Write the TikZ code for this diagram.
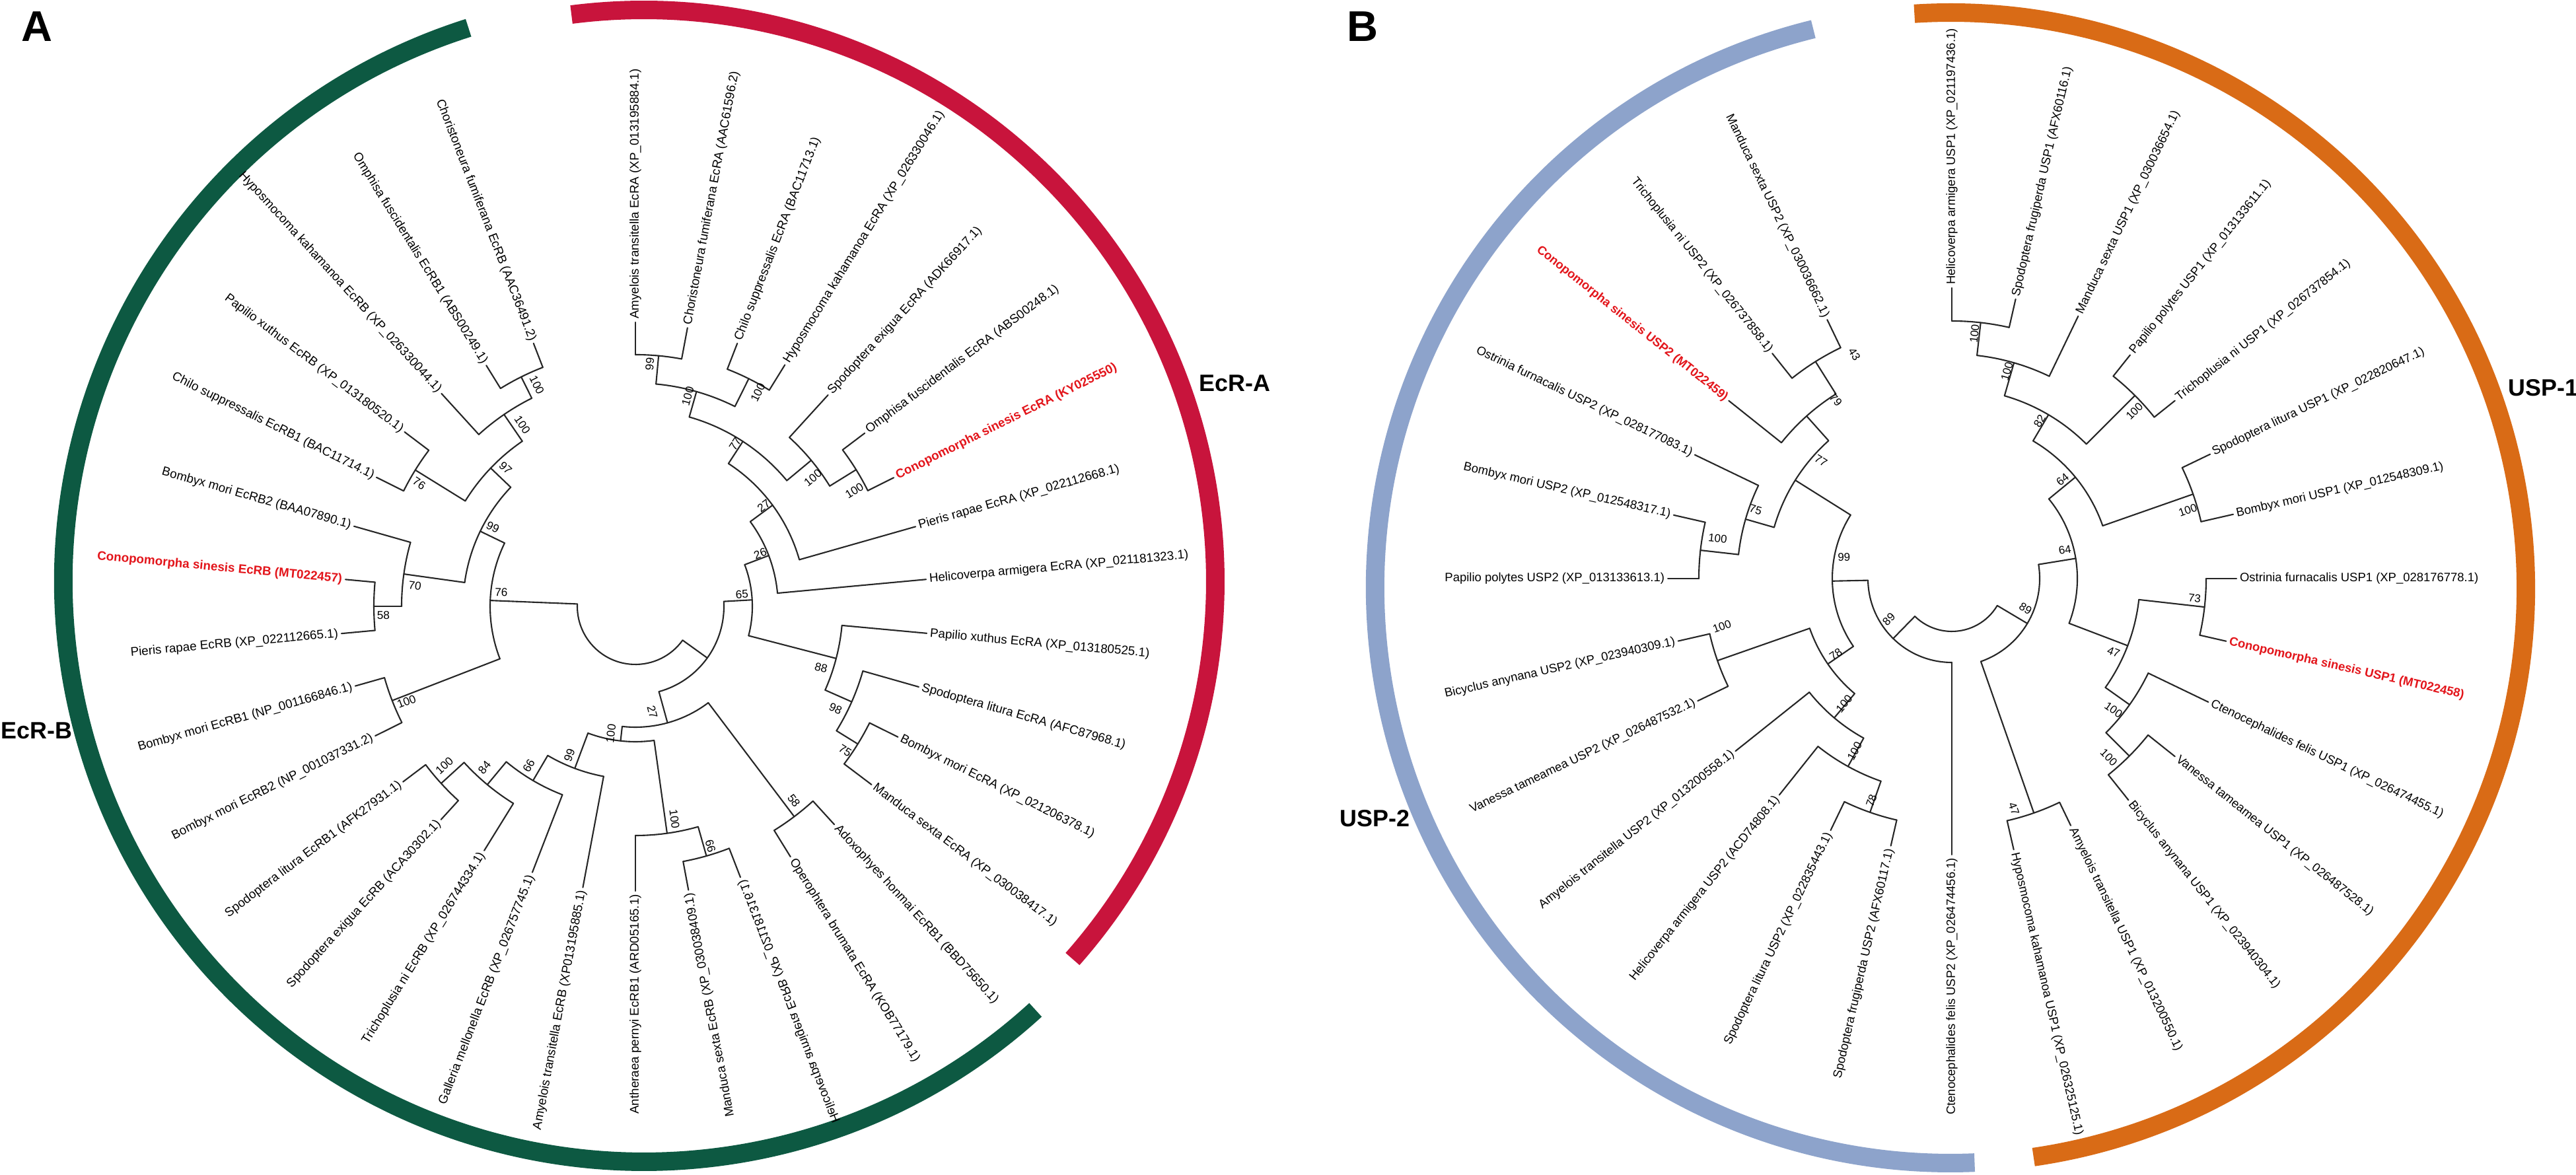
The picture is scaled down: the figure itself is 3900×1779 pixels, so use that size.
\documentclass[tikz,border=0pt]{standalone}
\usepackage{fontspec}
\setmainfont{Liberation Sans}
\definecolor{cgreen}{HTML}{0D5942}
\definecolor{cred}{HTML}{C8143C}
\definecolor{cblue}{HTML}{8DA3CB}
\definecolor{corange}{HTML}{D96B16}
\definecolor{ctext}{HTML}{E3151B}
\def\lffont{\fontsize{5.35}{6.3}\selectfont}
\def\bsfont{\fontsize{4.9}{5.8}\selectfont}
\tikzset{
  tree/.style={line width=0.6pt, line cap=round, line join=round, black!85},
  ring/.style={line width=0.28cm},
  lfR/.style={anchor=west, inner xsep=0.05cm, inner ysep=0pt, outer sep=0pt, font=\lffont},
  lfL/.style={anchor=east, inner xsep=0.05cm, inner ysep=0pt, outer sep=0pt, font=\lffont},
  bs/.style={inner sep=0pt, font=\bsfont},
  clade/.style={font=\fontsize{10.2}{12}\selectfont\bfseries, inner sep=0pt},
  panel/.style={font=\fontsize{18.5}{20}\selectfont\bfseries, inner sep=0pt},
}
% internal node: name, angle, radius, parent radius, arc from, arc to
\newcommand\Nd[6]{\coordinate (#1) at (#2:#3);
  \draw[tree] (#2:#4) -- (#1);
  \draw[tree] (#5:#3) arc[start angle=#5, end angle=#6, radius=#3];}
% leaf: name, angle, parent radius, tip radius
\newcommand\Lf[4]{\coordinate (#1) at (#2:#4); \draw[tree] (#2:#3) -- (#1);}
\newcommand\LR[3]{\node[lfR, rotate=#2] (t#1) at (#1) {#3};}
\newcommand\LL[3]{\node[lfL, rotate=#2] (t#1) at (#1) {#3};}
\newcommand\BS[5]{\node[bs, rotate=#4] (#1) at (#2:#3) {#5};}
\newcommand\Red[1]{\textcolor{ctext}{\bfseries #1}}
\begin{document}
\begin{tikzpicture}[x=0.01cm, y=0.01cm]
\fill[white] (0,0) rectangle (3900,1779);
\useasboundingbox (0,0) rectangle (3900,1779);

% ================= PANEL A =================
\node[panel] (labA) at (56,1739) {A};
\begin{scope}[shift={(975,899)}]
  \draw[ring, cgreen] (107.6:879) arc[start angle=107.6, end angle=312.4, radius=879];
  \draw[ring, cred] (-41.4:865) arc[start angle=-41.4, end angle=97.3, radius=865];
\end{scope}
\node[clade, anchor=west] (cEcRA) at (1815,1199) {EcR-A};
\node[clade, anchor=west] (cEcRB) at (1,673) {EcR-B};

\begin{scope}[shift={(962,861)}]
  \coordinate (Aroot) at (0,0);
  \draw[tree] (177.69:88) arc[start angle=177.69, end angle=324.3, radius=88];
  \Nd{AX}{177.69}{220}{88}{154.19}{201.18}
  \Nd{AY}{-35.7}{134}{88}{3.15}{-74.6}
  \Nd{A65}{3.15}{177}{134}{20.85}{-14.56}
  \Nd{A26}{20.85}{216}{177}{36.4}{5.29}
  \Nd{A27a}{36.4}{258}{216}{56.91}{15.88}
  \Nd{A77}{56.91}{298}{258}{74.12}{39.71}
  \Nd{A100c}{74.12}{338}{298}{84.71}{63.53}
  \Nd{A99a}{84.71}{381}{338}{90}{79.41}
  \Nd{A100b}{63.53}{385}{338}{68.82}{58.24}
  \Nd{A100e}{39.71}{346}{298}{47.65}{31.76}
  \Nd{A100d}{31.76}{393}{346}{37.06}{26.47}
  \Nd{A88}{-14.56}{314}{177}{-5.29}{-23.82}
  \Nd{A98}{-23.82}{358}{314}{-15.88}{-31.76}
  \Nd{A75}{-31.76}{396}{358}{-26.47}{-37.06}
  \Nd{A27b}{-74.6}{183}{134}{-52.94}{-96.29}
  \Nd{A58}{-52.94}{399}{183}{-47.65}{-58.24}
  \Nd{A100h}{-96.29}{205}{183}{-82.06}{-110.51}
  \Nd{A100f}{-82.06}{347}{205}{-74.12}{-90}
  \Nd{A66}{-74.12}{393}{347}{-68.82}{-79.41}
  \Nd{A99b}{-110.51}{262}{205}{-100.59}{-120.44}
  \Nd{A66b}{-120.44}{306}{262}{-111.18}{-129.71}
  \Nd{A84}{-129.71}{351}{306}{-121.76}{-137.65}
  \Nd{A100g}{-137.65}{398}{351}{-132.35}{-142.94}
  \Nd{A100i}{201.18}{395}{220}{206.47}{195.88}
  \Nd{A99c}{154.19}{261}{220}{172.06}{136.32}
  \Nd{A70}{172.06}{354}{261}{180}{164.12}
  \Nd{A58b}{180}{396}{354}{185.29}{174.71}
  \Nd{A97}{136.32}{303}{261}{148.24}{124.41}
  \Nd{A76b}{148.24}{392}{303}{153.53}{142.94}
  \Nd{A100k}{124.41}{352}{303}{132.35}{116.47}
  \Nd{A100j}{116.47}{388}{352}{121.76}{111.18}
  % leaves
  \Lf{Al1}{90}{381}{430}
  \Lf{Al2}{79.41}{381}{429}
  \Lf{Al3}{68.82}{385}{427}
  \Lf{Al4}{58.24}{385}{430}
  \Lf{Al5}{47.65}{346}{433}
  \Lf{Al6}{37.06}{393}{435}
  \Lf{Al7}{26.47}{393}{437}
  \Lf{Al8}{15.88}{258}{441}
  \Lf{Al9}{5.29}{216}{442}
  \Lf{Al10}{-5.29}{314}{443}
  \Lf{Al11}{-15.88}{358}{446}
  \Lf{Al12}{-26.47}{396}{444}
  \Lf{Al13}{-37.06}{396}{448}
  \Lf{Al14}{-47.65}{399}{447}
  \Lf{Al15}{-58.24}{399}{446}
  \Lf{Al16}{-68.82}{393}{440}
  \Lf{Al17}{-79.41}{393}{437}
  \Lf{Al18}{-90}{347}{431}
  \Lf{Al19}{-100.59}{262}{433}
  \Lf{Al20}{-111.18}{306}{432}
  \Lf{Al21}{-121.76}{351}{435}
  \Lf{Al22}{-132.35}{398}{437}
  \Lf{Al23}{-142.94}{398}{441}
  \Lf{Al24}{206.47}{395}{440}
  \Lf{Al25}{195.88}{395}{441}
  \Lf{Al26}{185.29}{396}{447}
  \Lf{Al27}{174.71}{396}{441}
  \Lf{Al28}{164.12}{354}{443}
  \Lf{Al29}{153.53}{392}{438}
  \Lf{Al30}{142.94}{392}{438}
  \Lf{Al31}{132.35}{352}{436}
  \Lf{Al32}{121.76}{388}{429}
  \Lf{Al33}{111.18}{388}{427}
  % leaf labels
  \LR{Al1}{90}{Amyelois transitella EcRA (XP\_013195884.1)}
  \LR{Al2}{79.41}{Choristoneura fumiferana EcRA (AAC61596.2)}
  \LR{Al3}{68.82}{Chilo suppressalis EcRA (BAC11713.1)}
  \LR{Al4}{58.24}{Hyposmocoma kahamanoa EcRA (XP\_026330046.1)}
  \LR{Al5}{47.65}{Spodoptera exigua EcRA (ADK66917.1)}
  \LR{Al6}{37.06}{Omphisa fuscidentalis EcRA (ABS00248.1)}
  \LR{Al7}{26.47}{\Red{Conopomorpha sinesis EcRA (KY025550)}}
  \LR{Al8}{15.88}{Pieris rapae EcRA (XP\_022112668.1)}
  \LR{Al9}{5.29}{Helicoverpa armigera EcRA (XP\_021181323.1)}
  \LR{Al10}{-5.29}{Papilio xuthus EcRA (XP\_013180525.1)}
  \LR{Al11}{-15.88}{Spodoptera litura EcRA (AFC87968.1)}
  \LR{Al12}{-26.47}{Bombyx mori EcRA (XP\_021206378.1)}
  \LR{Al13}{-37.06}{Manduca sexta EcRA (XP\_030038417.1)}
  \LR{Al14}{-47.65}{Adoxophyes honmai EcRB1 (BBD75650.1)}
  \LR{Al15}{-58.24}{Operophtera brumata EcRA (KOB77179.1)}
  \node[lfL, rotate=111.18, yscale=-1] (tAl16) at (Al16) {Helicoverpa armigera EcRB (XP\_021181316.1)};
  \LL{Al17}{100.59}{Manduca sexta EcRB (XP\_030038409.1)}
  \LL{Al18}{90}{Antheraea pernyi EcRB1 (ARD05165.1)}
  \LL{Al19}{79.41}{Amyelois transitella EcRB (XP013195885.1)}
  \LL{Al20}{68.82}{Galleria mellonella EcRB (XP\_026757745.1)}
  \LL{Al21}{58.24}{Trichoplusia ni EcRB (XP\_026744334.1)}
  \LL{Al22}{47.65}{Spodoptera exigua EcRB (ACA30302.1)}
  \LL{Al23}{37.06}{Spodoptera litura EcRB1 (AFK27931.1)}
  \LL{Al24}{26.47}{Bombyx mori EcRB2 (NP\_001037331.2)}
  \LL{Al25}{15.88}{Bombyx mori EcRB1 (NP\_001166846.1)}
  \LL{Al26}{5.29}{Pieris rapae EcRB (XP\_022112665.1)}
  \LL{Al27}{-5.29}{\Red{Conopomorpha sinesis EcRB (MT022457)}}
  \LL{Al28}{-15.88}{Bombyx mori EcRB2 (BAA07890.1)}
  \LL{Al29}{-26.47}{Chilo suppressalis EcRB1 (BAC11714.1)}
  \LL{Al30}{-37.06}{Papilio xuthus EcRB (XP\_013180520.1)}
  \LL{Al31}{-47.65}{Hyposmocoma kahamanoa EcRB (XP\_026330044.1)}
  \LL{Al32}{-58.24}{Omphisa fuscidentalis EcRB1 (ABS00249.1)}
  \LL{Al33}{-68.82}{Choristoneura fumiferana EcRB (AAC36491.2)}
  % bootstrap values
  \BS{bA1}{86.6}{367.5}{84.7}{99}
  \BS{bA2}{76.0}{327.8}{74.1}{100}
  \BS{bA3}{60.2}{373.2}{63.5}{100}
  \BS{bA4}{58.4}{288.2}{56.9}{77}
  \BS{bA5}{35.9}{331.7}{39.7}{100}
  \BS{bA6}{27.8}{374.8}{31.8}{100}
  \BS{bA7}{38.1}{246.9}{36.4}{27}
  \BS{bA8}{22.9}{205.2}{20.9}{26}
  \BS{bA9}{6.4}{162.3}{3.2}{65}
  \BS{bA10}{-18.3}{296}{-14.6}{88}
  \BS{bA11}{-27.1}{340.5}{-23.8}{98}
  \BS{bA12}{-34.6}{385.7}{-31.8}{75}
  \BS{bA13}{-50.8}{379.5}{-52.9}{58}
  \BS{bA14}{-72.6}{380.1}{-74.1}{66}
  \BS{bA15}{-79.6}{327.6}{-82.1}{100}
  \BS{bA16}{-80.9}{162}{-74.6}{27}
  \BS{bA17}{-100.9}{196.5}{83.7}{100}
  \BS{bA18}{-113.9}{246.6}{69.5}{99}
  \BS{bA19}{-123.8}{290.2}{59.6}{66}
  \BS{bA20}{-133.1}{334.4}{50.3}{84}
  \BS{bA21}{-140.2}{376.5}{42.35}{100}
  \BS{bA22}{-157.4}{375.4}{21.2}{100}
  \BS{bA23}{174.0}{204.2}{-2.3}{76}
  \BS{bA24}{174.7}{335.2}{-7.9}{70}
  \BS{bA25}{182.0}{381.8}{0}{58}
  \BS{bA26}{150.9}{247}{-25.8}{99}
  \BS{bA27}{133.2}{287.1}{-43.7}{97}
  \BS{bA28}{150.4}{376.6}{-31.8}{76}
  \BS{bA29}{121.9}{324}{-55.6}{100}
  \BS{bA30}{114}{366.9}{-63.5}{100}
\end{scope}

% ================= PANEL B =================
\node[panel] (labB) at (2063,1739) {B};
\begin{scope}[shift={(2953,889)}]
  \draw[ring, cblue] (103.8:871) arc[start angle=103.8, end angle=272.4, radius=871];
  \draw[ring, corange] (-81.7:871) arc[start angle=-81.7, end angle=93.6, radius=871];
\end{scope}
\node[clade, anchor=west] (cUSP1) at (3797,1192) {USP-1};
\node[clade, anchor=east] (cUSP2) at (2135,540) {USP-2};

\def\lffont{\fontsize{5.25}{6.2}\selectfont}
\def\bsfont{\fontsize{4.8}{5.7}\selectfont}
\begin{scope}[shift={(2955,903)}]
  \coordinate (Broot) at (0,0);
  \draw[tree] (-30.74:80) arc[start angle=-30.74, end angle=-134.4, radius=80];
  \Nd{BR89}{-30.74}{133}{80}{9.24}{-70.71}
  \Nd{B64b}{9.24}{190}{133}{39.38}{-20.89}
  \Nd{B64a}{39.38}{242}{190}{59.46}{19.29}
  \Nd{B82}{59.46}{288}{242}{73.93}{45}
  \Nd{B100b}{73.93}{340}{288}{83.57}{64.29}
  \Nd{B100a}{83.57}{390}{340}{90}{77.14}
  \Nd{B100c}{45}{392}{288}{51.43}{38.57}
  \Nd{B100d}{19.29}{387}{242}{25.71}{12.86}
  \Nd{B47a}{-20.89}{285}{190}{-6.43}{-35.36}
  \Nd{B73}{-6.43}{385}{285}{0}{-12.86}
  \Nd{B100f}{-35.36}{330}{285}{-25.71}{-45}
  \Nd{B100e}{-45}{380}{330}{-38.57}{-51.43}
  \Nd{B47b}{-70.71}{376}{133}{-64.29}{-77.14}
  \Nd{BL89}{-134.4}{127}{80}{-90}{-178.8}
  \Nd{B99}{-178.8}{181}{127}{-145.45}{-212.14}
  \Nd{B78a}{-145.45}{228}{181}{-130.18}{-160.71}
  \Nd{B100h}{-130.18}{276}{228}{-118.93}{-141.43}
  \Nd{B100g}{-118.93}{325}{276}{-109.29}{-128.57}
  \Nd{B78b}{-109.29}{375}{325}{-102.86}{-115.71}
  \Nd{B100i}{-160.71}{376}{228}{-154.29}{-167.14}
  \Nd{B77}{-212.14}{280}{181}{-196.07}{-228.21}
  \Nd{B75}{-196.07}{325}{280}{-186.43}{-205.71}
  \Nd{B100j}{-186.43}{383}{325}{-180}{-192.86}
  \Nd{B79}{-228.21}{330}{280}{-218.57}{-237.86}
  \Nd{B43}{-237.86}{388}{330}{-231.43}{-244.29}
  % leaves
  \Lf{Bl1}{90}{390}{440}
  \Lf{Bl2}{77.14}{390}{434}
  \Lf{Bl3}{64.29}{340}{441}
  \Lf{Bl4}{51.43}{392}{433}
  \Lf{Bl5}{38.57}{392}{432}
  \Lf{Bl6}{25.71}{387}{434}
  \Lf{Bl7}{12.86}{387}{437}
  \Lf{Bl8}{0}{385}{431}
  \Lf{Bl9}{-12.86}{385}{426}
  \Lf{Bl10}{-25.71}{330}{431}
  \Lf{Bl11}{-38.57}{380}{432}
  \Lf{Bl12}{-51.43}{380}{429}
  \Lf{Bl13}{-64.29}{376}{415}
  \Lf{Bl14}{-77.14}{376}{421}
  \Lf{Bl15}{-90}{127}{418}
  \Lf{Bl16}{-102.86}{375}{415}
  \Lf{Bl17}{-115.71}{375}{423}
  \Lf{Bl18}{-128.57}{325}{419}
  \Lf{Bl19}{-141.43}{276}{419}
  \Lf{Bl20}{-154.29}{376}{427}
  \Lf{Bl21}{-167.14}{376}{425}
  \Lf{Bl22}{-180}{383}{430}
  \Lf{Bl23}{-192.86}{383}{432}
  \Lf{Bl24}{-205.71}{325}{432}
  \Lf{Bl25}{-218.57}{330}{432}
  \Lf{Bl26}{-231.43}{388}{436}
  \Lf{Bl27}{-244.29}{388}{435}
  % leaf labels
  \LR{Bl1}{90}{Helicoverpa armigera USP1 (XP\_021197436.1)}
  \LR{Bl2}{77.14}{Spodoptera frugiperda USP1 (AFX60116.1)}
  \LR{Bl3}{64.29}{Manduca sexta USP1 (XP\_030036654.1)}
  \LR{Bl4}{51.43}{Papilio polytes USP1 (XP\_013133611.1)}
  \LR{Bl5}{38.57}{Trichoplusia ni USP1 (XP\_026737854.1)}
  \LR{Bl6}{25.71}{Spodoptera litura USP1 (XP\_022820647.1)}
  \LR{Bl7}{12.86}{Bombyx mori USP1 (XP\_012548309.1)}
  \LR{Bl8}{0}{Ostrinia furnacalis USP1 (XP\_028176778.1)}
  \LR{Bl9}{-12.86}{\Red{Conopomorpha sinesis USP1 (MT022458)}}
  \LR{Bl10}{-25.71}{Ctenocephalides felis USP1 (XP\_026474455.1)}
  \LR{Bl11}{-38.57}{Vanessa tameamea USP1 (XP\_026487528.1)}
  \LR{Bl12}{-51.43}{Bicyclus anynana USP1 (XP\_023940304.1)}
  \LR{Bl13}{-64.29}{Amyelois transitella USP1 (XP\_013200550.1)}
  \LR{Bl14}{-77.14}{Hyposmocoma kahamanoa USP1 (XP\_026325125.1)}
  \LL{Bl15}{90}{Ctenocephalides felis USP2 (XP\_026474456.1)}
  \LL{Bl16}{77.14}{Spodoptera frugiperda USP2 (AFX60117.1)}
  \LL{Bl17}{64.29}{Spodoptera litura USP2 (XP\_022835443.1)}
  \LL{Bl18}{51.43}{Helicoverpa armigera USP2 (ACD74808.1)}
  \LL{Bl19}{38.57}{Amyelois transitella USP2 (XP\_013200558.1)}
  \LL{Bl20}{25.71}{Vanessa tameamea USP2 (XP\_026487532.1)}
  \LL{Bl21}{12.86}{Bicyclus anynana USP2 (XP\_023940309.1)}
  \LL{Bl22}{0}{Papilio polytes USP2 (XP\_013133613.1)}
  \LL{Bl23}{-12.86}{Bombyx mori USP2 (XP\_012548317.1)}
  \LL{Bl24}{-25.71}{Ostrinia furnacalis USP2 (XP\_028177083.1)}
  \LL{Bl25}{-38.57}{\Red{Conopomorpha sinesis USP2 (MT022459)}}
  \LL{Bl26}{-51.43}{Trichoplusia ni USP2 (XP\_026737858.1)}
  \LL{Bl27}{-64.29}{Manduca sexta USP2 (XP\_030036662.1)}
  % bootstrap values
  \BS{bB1}{84.7}{372.4}{83.6}{100}
  \BS{bB2}{75.1}{324.3}{73.9}{100}
  \BS{bB3}{60.9}{273.1}{59.5}{82}
  \BS{bB4}{42.5}{374.8}{45}{100}
  \BS{bB5}{41.8}{224.9}{39.4}{64}
  \BS{bB6}{16.2}{371.9}{19.3}{100}
  \BS{bB7}{14.3}{176.7}{9.2}{64}
  \BS{bB8}{-4.7}{368.8}{-6.4}{73}
  \BS{bB9}{-24.4}{269}{-20.9}{47}
  \BS{bB10}{-39.1}{315.4}{-35.4}{100}
  \BS{bB11}{-48.7}{360.2}{-45}{100}
  \BS{bB12}{-22.3}{120.6}{-30.7}{89}
  \BS{bB13}{-74.9}{361}{-70.7}{47}
  \BS{bB14}{-147.2}{113.5}{45.6}{89}
  \BS{bB15}{168.8}{166.4}{1.2}{99}
  \BS{bB16}{-146.9}{209.8}{34.5}{78}
  \BS{bB17}{-168.2}{355.6}{19.3}{100}
  \BS{bB18}{-130.7}{250}{49.8}{100}
  \BS{bB19}{-119.4}{299.8}{61.1}{100}
  \BS{bB20}{-109.9}{357.5}{70.7}{78}
  \BS{bB21}{138.0}{266.7}{-32.1}{77}
  \BS{bB22}{160.7}{314.7}{-16.1}{75}
  \BS{bB23}{170.3}{359.7}{-6.4}{100}
  \BS{bB24}{123.0}{322.6}{-48.2}{79}
  \BS{bB25}{113.5}{369.9}{-57.9}{43}
\end{scope}
\end{tikzpicture}
\end{document}
